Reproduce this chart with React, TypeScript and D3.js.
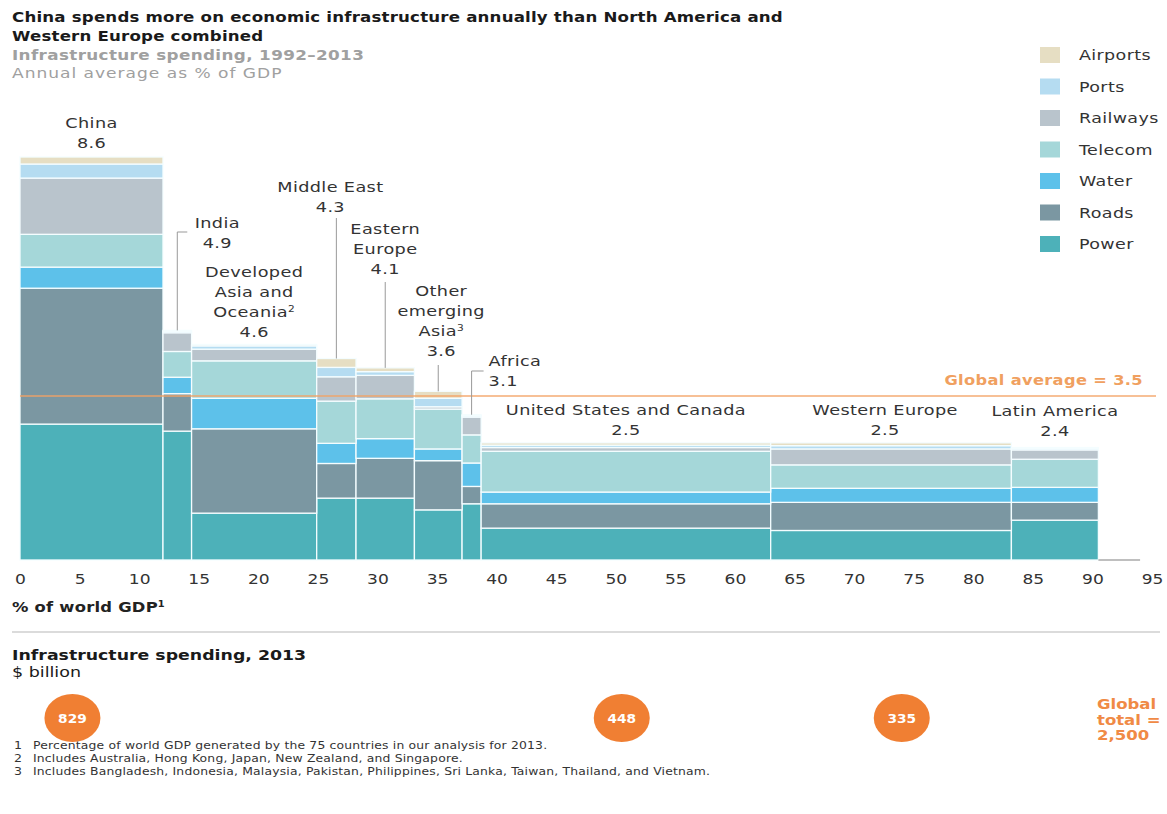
import { useEffect, useRef } from 'react';
import * as d3 from 'd3';

// Regions in the order they appear along the x axis
const regions = [
  'China',
  'India',
  'Developed Asia and Oceania',
  'Middle East',
  'Eastern Europe',
  'Other emerging Asia',
  'Africa',
  'United States and Canada',
  'Western Europe',
  'Latin America',
];

// Bar width: % of world GDP
const gdpShare = [12.0, 2.4, 10.5, 3.3, 4.9, 4.0, 1.6, 24.3, 20.2, 7.3];

// Bar height: annual infrastructure spending as % of GDP
const totals = [8.6, 4.9, 4.6, 4.3, 4.1, 3.6, 3.1, 2.5, 2.5, 2.4];

const sectors = ['Power', 'Roads', 'Water', 'Telecom', 'Railways', 'Ports', 'Airports'];
const power = [2.9, 2.75, 1.0, 1.32, 1.32, 1.07, 1.2, 0.68, 0.63, 0.85];
const roads = [2.9, 0.8, 1.8, 0.74, 0.85, 1.05, 0.37, 0.52, 0.6, 0.38];
const water = [0.45, 0.35, 0.65, 0.43, 0.42, 0.25, 0.5, 0.25, 0.3, 0.32];
const telecom = [0.7, 0.55, 0.8, 0.9, 0.85, 0.85, 0.6, 0.87, 0.5, 0.6];
const railways = [1.2, 0.4, 0.25, 0.52, 0.5, 0.05, 0.38, 0.08, 0.34, 0.2];
const ports = [0.3, 0.03, 0.07, 0.2, 0.08, 0.18, 0.03, 0.05, 0.07, 0.03];
const airports = [0.15, 0.02, 0.03, 0.19, 0.08, 0.15, 0.02, 0.05, 0.06, 0.02];

const sectorColors = ['#4db1b9', '#7b97a2', '#5dc1ea', '#a5d7d9', '#b9c4cc', '#b5dcf1', '#e6dec3'];

const xTicks = [0, 5, 10, 15, 20, 25, 30, 35, 40, 45, 50, 55, 60, 65, 70, 75, 80, 85, 90, 95];
const globalAverage = 3.5;

// Infrastructure spending 2013, $ billion, placed along the GDP axis
const spending2013 = [829, 448, 335];
const spendingAt = [4.4, 50.5, 74.0];
const globalTotal = ['Global', 'total =', '2,500'];

const footnotes = [
  'Percentage of world GDP generated by the 75 countries in our analysis for 2013.',
  'Includes Australia, Hong Kong, Japan, New Zealand, and Singapore.',
  'Includes Bangladesh, Indonesia, Malaysia, Pakistan, Philippines, Sri Lanka, Taiwan, Thailand, and Vietnam.',
];

// Label text per region (^n = superscript)
const labelLines = [
  ['China'],
  ['India'],
  ['Developed', 'Asia and', 'Oceania^2'],
  ['Middle East'],
  ['Eastern', 'Europe'],
  ['Other', 'emerging', 'Asia^3'],
  ['Africa'],
  ['United States and Canada'],
  ['Western Europe'],
  ['Latin America'],
];

// Label layout: first baseline, horizontal offset from bar centre, anchor, leader
const labelLayout = [
  { top: 128, dx: 0, anchor: 'middle', leader: 0, elbow: 0 },
  { top: 228, dx: 40, anchor: 'middle', leader: 232, elbow: 10 },
  { top: 277, dx: 0, anchor: 'middle', leader: 0, elbow: 0 },
  { top: 192, dx: -6, anchor: 'middle', leader: 218, elbow: 0 },
  { top: 234, dx: 0, anchor: 'middle', leader: 282, elbow: 0 },
  { top: 296, dx: 3, anchor: 'middle', leader: 365, elbow: 0 },
  { top: 366, dx: 17, anchor: 'start', leader: 371, elbow: 12 },
  { top: 415, dx: 0, anchor: 'middle', leader: 0, elbow: 0 },
  { top: 415, dx: -6, anchor: 'middle', leader: 0, elbow: 0 },
  { top: 416, dx: 0, anchor: 'middle', leader: 0, elbow: 0 },
];

const FONT = "'DejaVu Sans', 'Liberation Sans', sans-serif";

type Sel = d3.Selection<SVGGElement, unknown, null, undefined>;

// the source image is horizontally stretched, so text is widened with sx
function addText(
  g: Sel,
  x: number,
  y: number,
  s: string,
  o: { size?: number; weight?: string; fill?: string; anchor?: string; ls?: number; sx?: number } = {}
) {
  const t = g
    .append('text')
    .attr('transform', `translate(${x},${y}) scale(${o.sx ?? 1.2},1)`)
    .attr('font-size', o.size ?? 14)
    .attr('font-weight', o.weight ?? 'normal')
    .attr('fill', o.fill ?? '#333')
    .attr('text-anchor', o.anchor ?? 'start')
    .attr('letter-spacing', o.ls ?? 0);
  const parts = s.split('^');
  t.append('tspan').text(parts[0]);
  if (parts[1]) {
    t.append('tspan').attr('font-size', '0.6em').attr('dy', '-0.6em').text(parts[1]);
  }
  return t;
}

export default function App() {
  const svgRef = useRef<SVGSVGElement>(null);

  useEffect(() => {
    if (!svgRef.current) return;
    const root = d3.select(svgRef.current);
    root.selectAll('*').remove();
    const g = root.append('g').attr('font-family', FONT) as unknown as Sel;

    const x = d3.scaleLinear().domain([0, 95]).range([20, 1152]);
    const y = d3.scaleLinear().domain([0, 8.6]).range([560, 157]);

    // Title block
    addText(g, 12, 22, 'China spends more on economic infrastructure annually than North America and', { size: 14, weight: 'bold', fill: '#1a1a1a', ls: 0.15, sx: 1.19 });
    addText(g, 12, 41, 'Western Europe combined', { size: 14, weight: 'bold', fill: '#1a1a1a', ls: 0.15, sx: 1.19 });
    addText(g, 12, 60, 'Infrastructure spending, 1992–2013', { size: 14, weight: 'bold', fill: '#a0a0a0', ls: 0.3, sx: 1.2 });
    addText(g, 12, 78, 'Annual average as % of GDP', { size: 14, fill: '#a0a0a0', ls: 0.8, sx: 1.22 });

    // Stacked variable-width bars
    const table = regions.map((name, i) => ({
      name,
      Power: power[i],
      Roads: roads[i],
      Water: water[i],
      Telecom: telecom[i],
      Railways: railways[i],
      Ports: ports[i],
      Airports: airports[i],
    }));
    const series = d3.stack<any>().keys(sectors)(table);
    const cum = d3.cumsum(gdpShare);
    const x0 = gdpShare.map((w, i) => cum[i] - w);

    const bars = g.append('g');
    series.forEach((s, k) => {
      bars
        .append('g')
        .selectAll('rect')
        .data(s)
        .enter()
        .append('rect')
        .attr('x', (_d, i) => x(x0[i]))
        .attr('width', (_d, i) => x(x0[i] + gdpShare[i]) - x(x0[i]))
        .attr('y', (d) => y(d[1]))
        .attr('height', (d) => Math.max(0, y(d[0]) - y(d[1])))
        .attr('fill', sectorColors[k])
        .attr('stroke', '#f4fdff')
        .attr('stroke-width', 1.3);
    });

    // remainder of the axis
    g.append('line')
      .attr('x1', x(cum[cum.length - 1]))
      .attr('x2', x(94))
      .attr('y1', y(0))
      .attr('y2', y(0))
      .attr('stroke', '#aaa')
      .attr('stroke-width', 1.5);

    // Global average line
    g.append('line')
      .attr('x1', x(0))
      .attr('x2', x(95) + 4)
      .attr('y1', y(globalAverage))
      .attr('y2', y(globalAverage))
      .attr('stroke', '#f3a264')
      .attr('stroke-opacity', 0.9)
      .attr('stroke-width', 1.6);
    addText(g, 1143, y(globalAverage) - 11, `Global average = ${globalAverage}`, { size: 14, weight: 'bold', fill: '#f0a060', anchor: 'end', ls: 0.3, sx: 1.16 });

    // Region labels and leaders
    regions.forEach((_r, i) => {
      const cx = x(x0[i] + gdpShare[i] / 2);
      const L = labelLayout[i];
      const lines = [...labelLines[i], String(totals[i])];
      lines.forEach((ln, j) => {
        addText(g, cx + L.dx, L.top + j * 20, ln, { size: 14.5, fill: '#333', anchor: L.anchor, ls: 0.3, sx: 1.22 });
      });
      if (L.leader) {
        g.append('line')
          .attr('x1', cx)
          .attr('x2', cx)
          .attr('y1', y(totals[i]))
          .attr('y2', L.leader)
          .attr('stroke', '#999')
          .attr('stroke-width', 1);
        if (L.elbow) {
          g.append('line')
            .attr('x1', cx)
            .attr('x2', cx + L.elbow)
            .attr('y1', L.leader)
            .attr('y2', L.leader)
            .attr('stroke', '#999')
            .attr('stroke-width', 1);
        }
      }
    });

    // Legend (top item = last stacked sector)
    const legend = g.append('g') as unknown as Sel;
    sectors
      .slice()
      .reverse()
      .forEach((s, j) => {
        const k = sectors.indexOf(s);
        const ly = 55 + j * 31.5;
        legend
          .append('rect')
          .attr('x', 1040)
          .attr('y', ly - 8)
          .attr('width', 20)
          .attr('height', 16)
          .attr('fill', sectorColors[k]);
        addText(legend, 1079, ly + 5, s, { size: 14, fill: '#333', ls: 0.3, sx: 1.25 });
      });

    // X axis
    const axis = g
      .append('g')
      .attr('transform', `translate(0,${y(0)})`)
      .call(d3.axisBottom(x).tickValues(xTicks).tickSize(0).tickPadding(14));
    axis.select('.domain').remove();
    axis
      .selectAll('text')
      .attr('font-size', 14)
      .attr('font-family', FONT)
      .attr('fill', '#333')
      .attr('transform', 'scale(1.22,1)');
    addText(g, 12, 612, '% of world GDP^1', { size: 14, weight: 'bold', fill: '#222', ls: 0.2, sx: 1.17 });

    // Divider
    g.append('line')
      .attr('x1', 12)
      .attr('x2', 1160)
      .attr('y1', 632)
      .attr('y2', 632)
      .attr('stroke', '#cfcfcf')
      .attr('stroke-width', 1.5);

    // 2013 spending
    addText(g, 12, 660, 'Infrastructure spending, 2013', { size: 14, weight: 'bold', fill: '#1a1a1a', sx: 1.24 });
    addText(g, 12, 677, '$ billion', { size: 14, fill: '#1a1a1a', sx: 1.25 });
    spending2013.forEach((v, i) => {
      const cx = x(spendingAt[i]);
      g.append('ellipse')
        .attr('cx', cx)
        .attr('cy', 718)
        .attr('rx', 28)
        .attr('ry', 24)
        .attr('fill', '#f07f33');
      addText(g, cx, 723, String(v), { size: 12.5, weight: 'bold', fill: '#fff', anchor: 'middle', sx: 1.1 });
    });
    globalTotal.forEach((s, j) => {
      addText(g, 1097, 709 + j * 15.5, s, { size: 14, weight: 'bold', fill: '#f08a45', sx: 1.18 });
    });

    // Footnotes
    footnotes.forEach((f, j) => {
      const fy = 749 + j * 13;
      addText(g, 14, fy, String(j + 1), { size: 10.5, fill: '#333' });
      addText(g, 33, fy, f, { size: 10.5, fill: '#333', ls: 0.15, sx: 1.18 });
    });
  }, []);

  return (
    <>
      <style>{'body{margin:0;background:#fff}'}</style>
      <svg ref={svgRef} width={1167} height={814} style={{ display: 'block' }} />
    </>
  );
}
